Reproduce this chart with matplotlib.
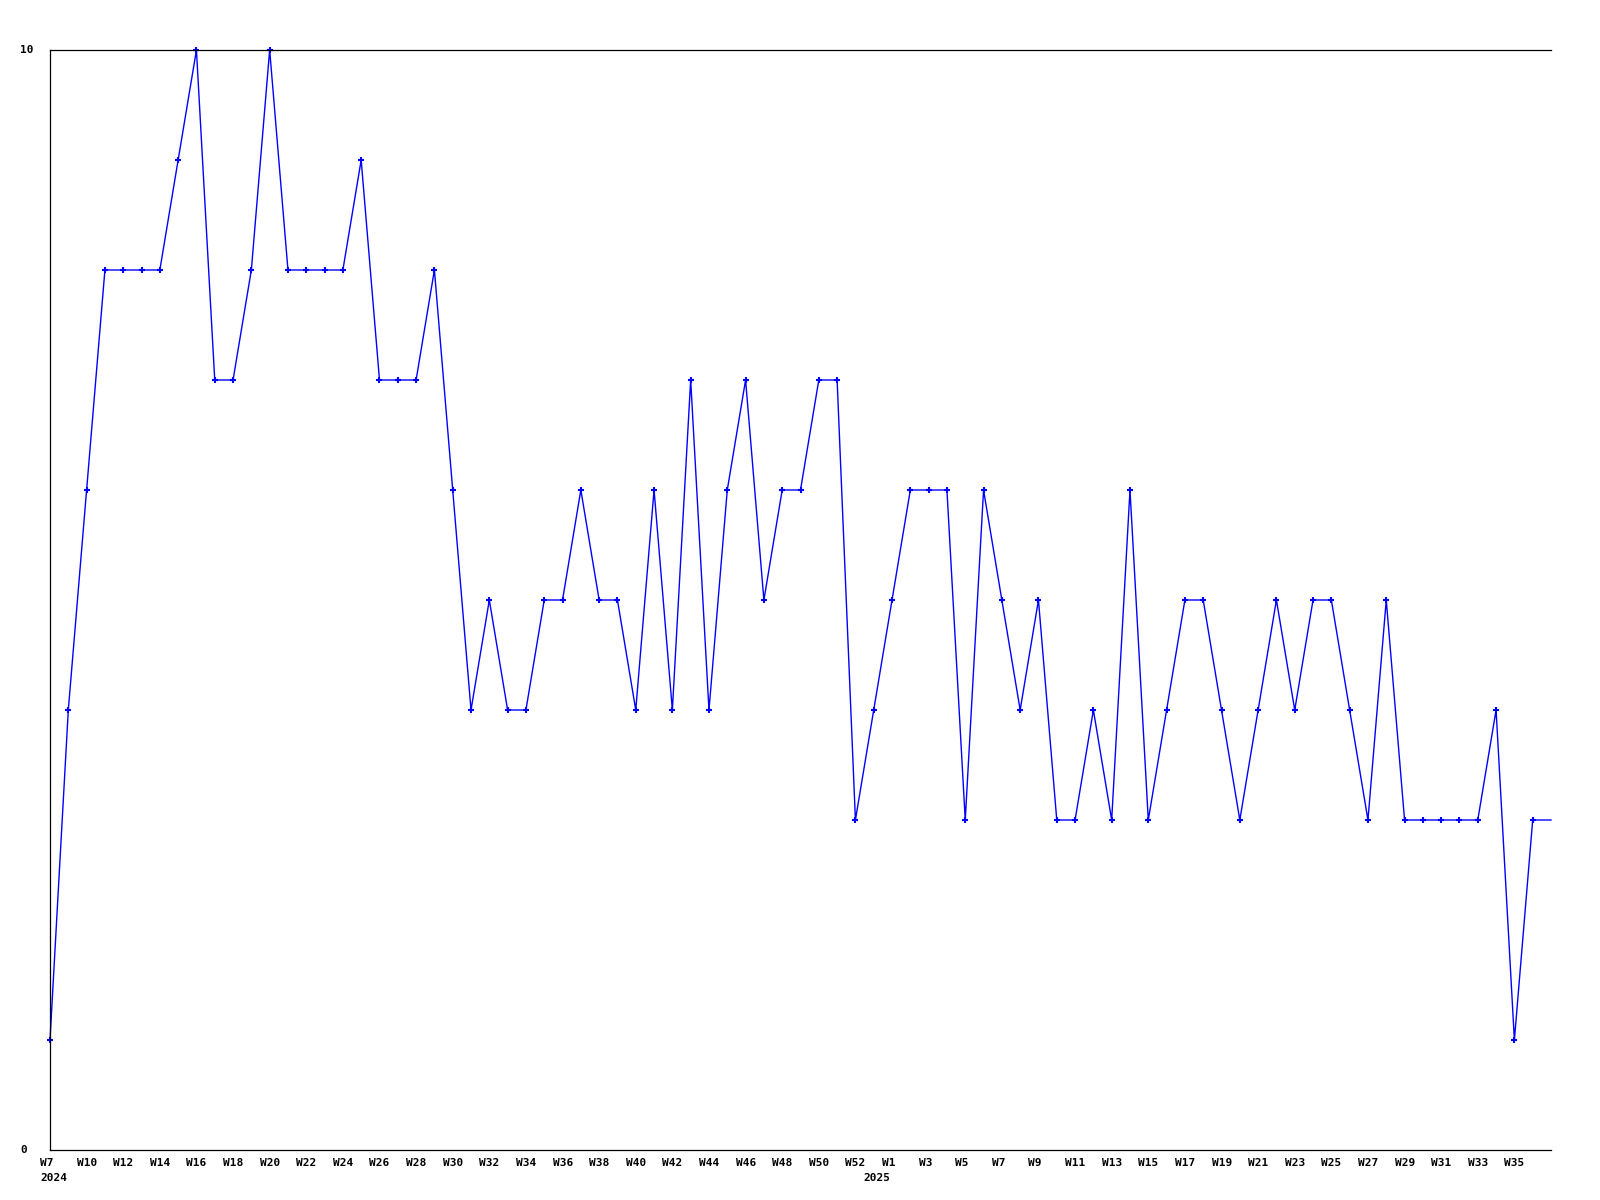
import matplotlib
matplotlib.use("Agg")
import matplotlib.pyplot as plt

# weekly values (index 0 = first week shown, last entry is the trailing, unmarked point)
values = [1, 4, 6, 8, 8, 8, 8, 9, 10, 7, 7, 8, 10, 8, 8, 8, 8, 9, 7, 7,
          7, 8, 6, 4, 5, 4, 4, 5, 5, 6, 5, 5, 4, 6, 4, 7, 4, 6, 7, 5,
          6, 6, 7, 7, 3, 4, 5, 6, 6, 6, 3, 6, 5, 4, 5, 3, 3, 4, 3, 6,
          3, 4, 5, 5, 4, 3, 4, 5, 4, 5, 5, 4, 3, 5, 3, 3, 3, 3, 3, 4,
          1, 3, 3]

tick_labels = (["W7"] + ["W%d" % w for w in range(10, 53, 2)]
               + ["W%d" % w for w in range(1, 36, 2)])
tick_index = [0] + list(range(2, 81, 2))
year_labels = ["2024", "2025"]
year_index = [0, 45]
y_labels = ["0", "10"]
y_values = [0, 10]

W, H = 1600, 1200
fig = plt.figure(figsize=(16, 12), dpi=100)
ax = fig.add_axes([50 / W, 1 - 1150 / H, (1551 - 50) / W, 1100 / H])

x = list(range(len(values)))
ax.plot(x, values, color="#0000ff", lw=1.0, marker="+", ms=4, mew=1.5,
        markevery=list(range(len(values) - 1)), clip_on=False)

ax.set_xlim(0, len(values) - 1)
ax.set_ylim(0, 10)
ax.set_xticks([])
ax.set_yticks([])
ax.spines["right"].set_visible(False)
for s in ["left", "top", "bottom"]:
    ax.spines[s].set_linewidth(0.9)
    ax.spines[s].set_color("black")

font = dict(family="DejaVu Sans Mono", weight="bold", size=8, color="black")

for i, lab in zip(tick_index, tick_labels):
    ax.annotate(lab, xy=(i, 0), xycoords=("data", "axes fraction"),
                xytext=(-10, -8), textcoords="offset pixels",
                ha="left", va="top", **font)
for i, lab in zip(year_index, year_labels):
    ax.annotate(lab, xy=(i, 0), xycoords=("data", "axes fraction"),
                xytext=(-10, -23), textcoords="offset pixels",
                ha="left", va="top", **font)
for v, lab in zip(y_values, y_labels):
    ax.annotate(lab, xy=(20, v), xycoords=("figure pixels", "data"),
                ha="left", va="center", **font)

fig.savefig("out.png", dpi=100)
